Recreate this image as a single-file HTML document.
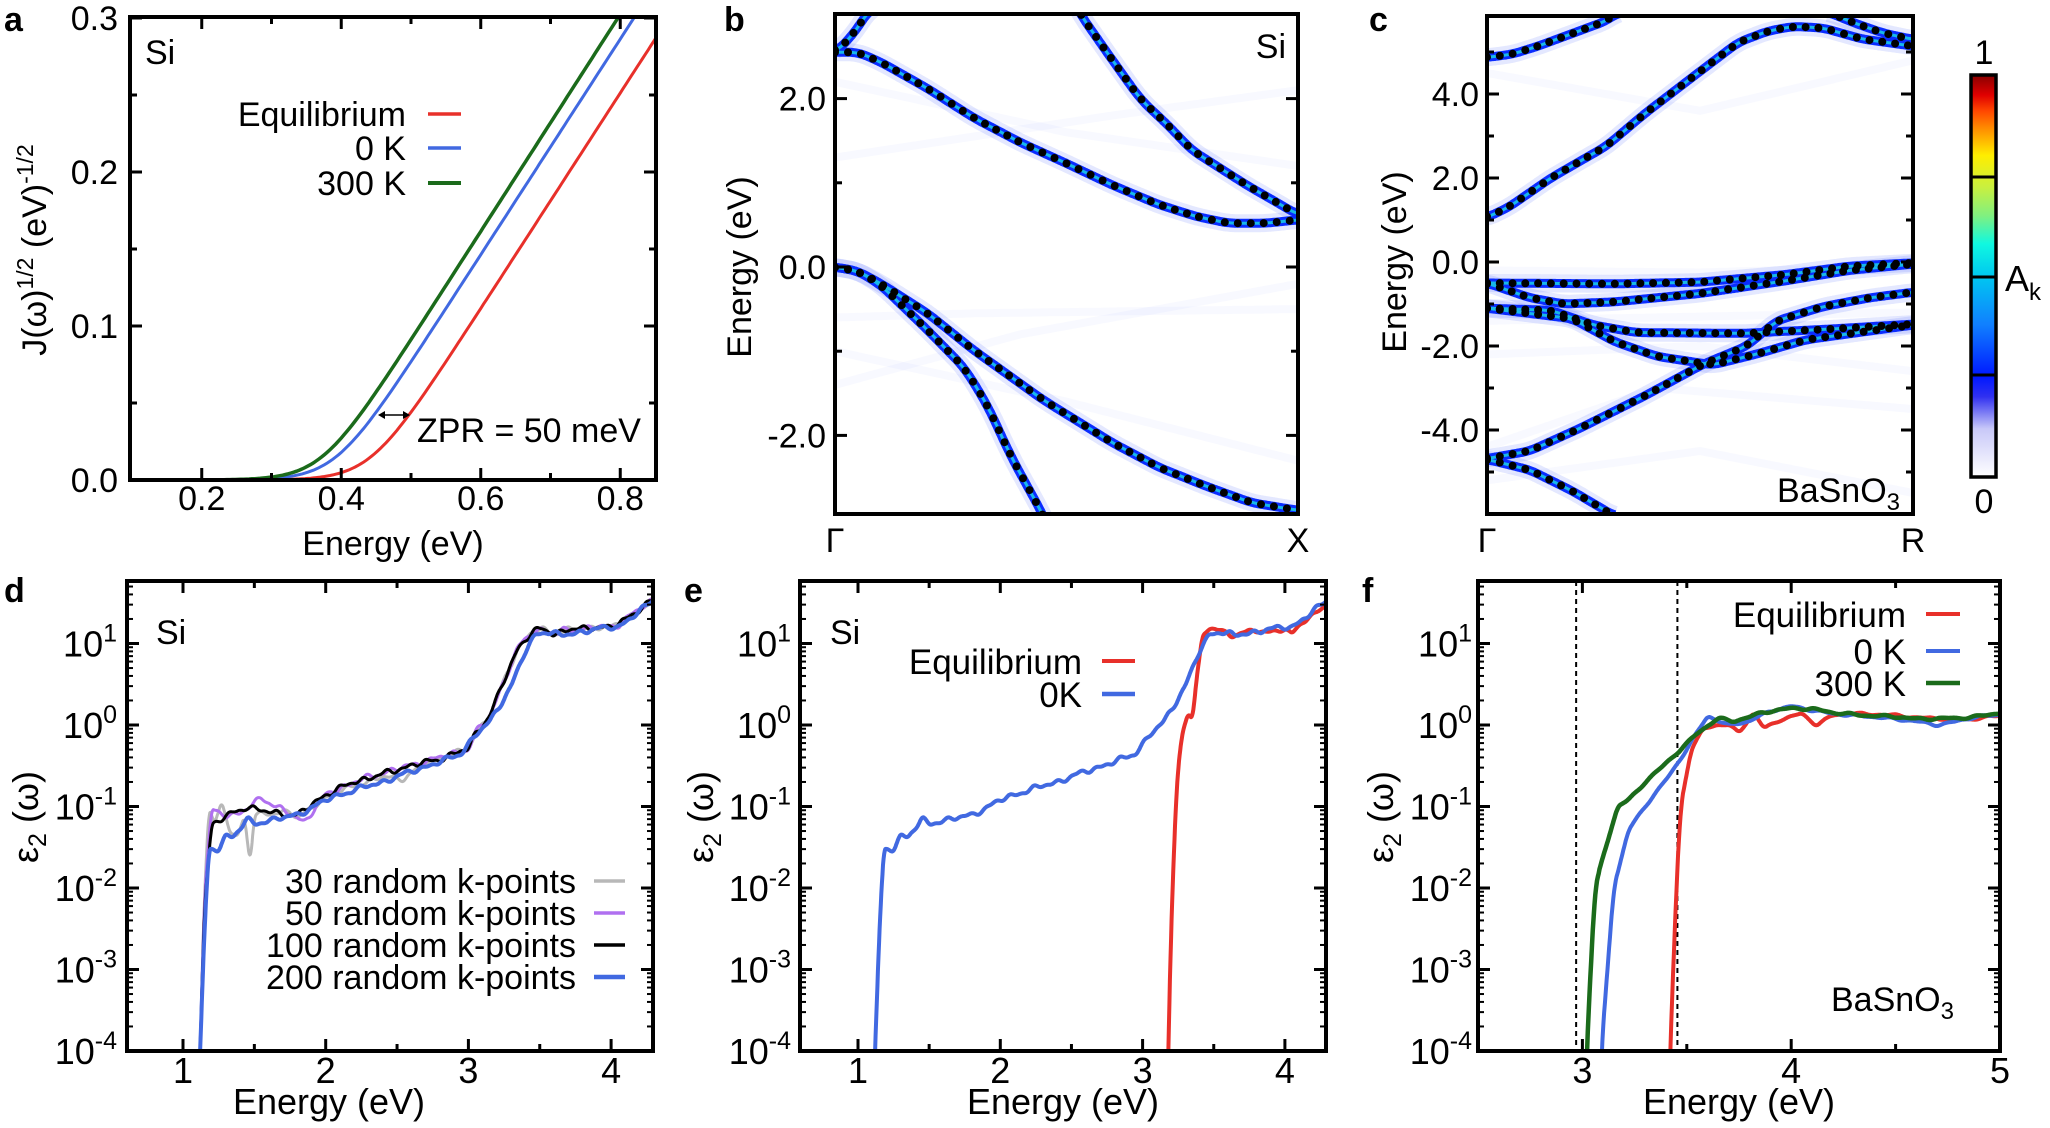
<!DOCTYPE html>
<html><head><meta charset="utf-8">
<style>
html,body{margin:0;padding:0;background:#fff;overflow:hidden;width:2050px;height:1128px;}
svg{display:block;font-family:"Liberation Sans",Arial,sans-serif;}
</style></head>
<body>
<svg id="s" width="2050" height="1128" viewBox="0 0 2050 1128" xmlns="http://www.w3.org/2000/svg"></svg>
<script>
let o='';
function T(x,y,s,size,anchor,extra){o+=`<text x="${x}" y="${y}" font-size="${size}" text-anchor="${anchor||'start'}" ${extra||''}>${s}</text>`;}
function L(x1,y1,x2,y2,c,w,extra){o+=`<line x1="${x1}" y1="${y1}" x2="${x2}" y2="${y2}" stroke="${c}" stroke-width="${w}" ${extra||''}/>`;}
function lerp(p,x){if(x<=p[0][0])return p[0][1];for(let i=1;i<p.length;i++){if(x<=p[i][0]){const a=p[i-1],b=p[i];return a[1]+(b[1]-a[1])*(x-a[0])/(b[0]-a[0]);}}return p[p.length-1][1];}
function smooth(p,x,h){let s=0,n=0;for(let k=-3;k<=3;k++){s+=lerp(p,x+k*h);n++;}return s/n;}
function path(pts){return 'M'+pts.map(q=>q[0].toFixed(1)+','+q[1].toFixed(1)).join('L');}
function clip(id,f){o+=`<clipPath id="${id}"><rect x="${f.l}" y="${f.t}" width="${f.r-f.l}" height="${f.b-f.t}"/></clipPath>`;}
function frame(f){o+=`<rect x="${f.l}" y="${f.t}" width="${f.r-f.l}" height="${f.b-f.t}" fill="none" stroke="#000" stroke-width="4"/>`;}
const FS=34;

// ---------- Panel a ----------
const A={l:130,r:656,t:17,b:480};
clip('ca',A);
const ax=x=>132+(x-0.1)*697.5, ay=v=>480-v*1540;
function jf(x,x0,s){return s*0.03*Math.log(1+Math.exp((x-x0)/0.03));}
[['#e8302a',0.441,0.7,3],['#4169e1',0.391,0.7,3],['#1b6b1b',0.371,0.705,3.5]].forEach(c=>{
 let pts=[];for(let x=0.1;x<=0.86;x+=0.004)pts.push([ax(x),ay(jf(x,c[1],c[2]))]);
 o+=`<path d="${path(pts)}" fill="none" stroke="${c[0]}" stroke-width="${c[3]}" clip-path="url(#ca)"/>`;
});
frame(A);
[0.2,0.4,0.6,0.8].forEach(v=>{const X=ax(v);L(X,A.b,X,A.b-12,'#000',3);L(X,A.t,X,A.t+12,'#000',3);T(X,510,v.toFixed(1),FS,'middle');});
[0.3,0.5,0.7].forEach(v=>{const X=ax(v);L(X,A.b,X,A.b-7,'#000',3);L(X,A.t,X,A.t+7,'#000',3);});
[0,0.1,0.2,0.3].forEach(v=>{const Y=ay(v);L(A.l,Y,A.l+12,Y,'#000',3);L(A.r,Y,A.r-12,Y,'#000',3);T(118,Y+12,v.toFixed(1),FS,'end');});
[0.05,0.15,0.25].forEach(v=>{const Y=ay(v);L(A.l,Y,A.l+7,Y,'#000',3);L(A.r,Y,A.r-7,Y,'#000',3);});
T(393,555,'Energy (eV)',FS,'middle');
o+=`<text transform="translate(46,250) rotate(-90)" font-size="${FS}" text-anchor="middle">J(ω)<tspan dy="-13" font-size="23">1/2</tspan><tspan dy="13"> (eV)</tspan><tspan dy="-13" font-size="23">-1/2</tspan></text>`;
T(145,64,'Si',FS);
T(406,126,'Equilibrium',FS,'end');T(406,160,'0 K',FS,'end');T(406,195,'300 K',FS,'end');
L(428,114,461,114,'#e8302a',3.5);L(428,148,461,148,'#4169e1',3.5);L(428,183,461,183,'#1b6b1b',4);
L(380,415,408,415,'#000',1.5);
o+=`<path d="M378,415 l7,-4 v8z M410,415 l-7,-4 v8z" fill="#000"/>`;
T(417,442,'ZPR = 50 meV',FS);
T(4,31,'a',34,'start','font-weight="bold"');

// ---------- band helpers ----------
function bands(f,id,Emap,list,haze){
 clip(id,f);
 o+=`<g clip-path="url(#${id})">`;
 const W=f.r-f.l;
 haze.forEach(b=>{let pts=[];for(let t=0;t<=1.0001;t+=0.005)pts.push([f.l+t*W,Emap(lerp(b,t))]);
  o+=`<path d="${path(pts)}" fill="none" stroke="#3050ff" stroke-opacity="0.035" stroke-width="8"/>`;});
 const all=[];
 list.forEach(b=>{let pts=[];const t0=b[0][0],t1=b[b.length-1][0];for(let t=t0;t<=t1+1e-6;t+=0.002)pts.push([f.l+t*W,Emap(smooth(b,t,0.006))]);all.push(pts);
  o+=`<path d="${path(pts)}" fill="none" stroke="#2040ff" stroke-opacity="0.12" stroke-width="18"/>`;});
 all.forEach(pts=>{o+=`<path d="${path(pts)}" fill="none" stroke="#0a2cff" stroke-width="9"/>`;});
 all.forEach(pts=>{o+=`<path d="${path(pts)}" fill="none" stroke="#18b8e8" stroke-width="3"/>`;});
 all.forEach(pts=>{let acc=0;o+=`<circle cx="${pts[0][0]}" cy="${pts[0][1]}" r="4" fill="#000"/>`;
  for(let i=1;i<pts.length;i++){acc+=Math.hypot(pts[i][0]-pts[i-1][0],pts[i][1]-pts[i-1][1]);if(acc>=12.5){acc=0;o+=`<circle cx="${pts[i][0].toFixed(1)}" cy="${pts[i][1].toFixed(1)}" r="4" fill="#000"/>`;}}});
 o+='</g>';
 frame(f);
}

// ---------- Panel b ----------
const B={l:835,r:1298,t:14,b:514};
const by=E=>267-84.2*E;
bands(B,'cb',by,[
 [[0,2.55],[0.05,2.55],[0.1,2.43],[0.2,2.12],[0.3,1.77],[0.4,1.48],[0.5,1.23],[0.6,0.97],[0.7,0.74],[0.78,0.6],[0.85,0.52],[0.93,0.52],[1,0.56]],
 [[0,2.55],[0.03,2.7],[0.06,2.93],[0.08,3.1]],
 [[0.5,3.3],[0.53,3.0],[0.6,2.45],[0.66,1.99],[0.72,1.68],[0.77,1.39],[0.83,1.18],[0.89,0.97],[0.95,0.78],[1,0.62]],
 [[0,0],[0.05,-0.05],[0.1,-0.22],[0.2,-0.75],[0.28,-1.2],[0.33,-1.65],[0.38,-2.25],[0.45,-2.95],[0.47,-3.2]],
 [[0,0],[0.05,-0.05],[0.1,-0.2],[0.2,-0.55],[0.3,-0.99],[0.45,-1.58],[0.6,-2.09],[0.7,-2.38],[0.8,-2.6],[0.9,-2.8],[1,-2.89]]
],[
 [[0,-0.6],[0.3,-0.55],[1,-0.5]],[[0,-1.0],[0.5,-1.6],[1,-2.3]],[[0,1.3],[0.6,1.8],[1,2.1]],[[0,2.2],[0.5,1.6],[1,1.2]],[[0,-1.4],[0.4,-0.8],[1,-0.2]]
]);
[-2,0,2].forEach(v=>{const Y=by(v);L(B.l,Y,B.l+12,Y,'#000',3);L(B.r,Y,B.r-12,Y,'#000',3);T(826,Y+12,v.toFixed(1),FS,'end');});
[-1,1].forEach(v=>{const Y=by(v);L(B.l,Y,B.l+7,Y,'#000',3);L(B.r,Y,B.r-7,Y,'#000',3);});
T(835,552,'Γ',FS,'middle');T(1298,552,'X',FS,'middle');
T(1286,58,'Si',FS,'end');
o+=`<text transform="translate(751,267) rotate(-90)" font-size="${FS}" text-anchor="middle">Energy (eV)</text>`;
T(724,31,'b',34,'start','font-weight="bold"');

// ---------- Panel c ----------
const C={l:1487,r:1913,t:16,b:514};
const cy=E=>262-42*E;
bands(C,'cc',cy,[
 [[0,1.06],[0.05,1.3],[0.15,2.0],[0.28,2.76],[0.37,3.53],[0.49,4.46],[0.59,5.23],[0.66,5.5],[0.72,5.61],[0.79,5.57],[0.88,5.31],[1,5.14]],
 [[0,4.87],[0.06,4.95],[0.12,5.14],[0.2,5.44],[0.28,5.74],[0.31,5.95]],
 [[0.8,5.95],[0.86,5.7],[0.93,5.45],[1,5.3]],
 [[0,-0.5],[0.3,-0.52],[0.5,-0.48],[0.7,-0.3],[0.85,-0.1],[1,-0.02]],
 [[0,-0.5],[0.1,-0.85],[0.18,-1.0],[0.3,-0.95],[0.5,-0.75],[0.7,-0.45],[0.85,-0.2],[1,-0.05]],
 [[0,-1.1],[0.15,-1.15],[0.25,-1.5],[0.35,-1.68],[0.6,-1.7],[0.8,-1.6],[1,-1.48]],
 [[0,-1.1],[0.2,-1.35],[0.3,-1.9],[0.4,-2.25],[0.53,-2.45],[0.63,-2.2],[0.75,-1.85],[1,-1.5]],
 [[0,-4.68],[0.1,-4.5],[0.22,-3.95],[0.37,-3.19],[0.51,-2.42],[0.61,-2.0],[0.68,-1.4],[0.79,-1.06],[0.9,-0.85],[1,-0.72]],
 [[0,-4.7],[0.1,-4.95],[0.2,-5.45],[0.3,-6.05]]
],[
 [[0,-0.2],[0.5,-0.25],[1,-0.1]],[[0,-1.4],[0.5,-1.3],[1,-1.2]],[[0,-2.2],[0.5,-2.0],[1,-2.6]],[[0,-4.4],[0.4,-3.0],[1,-3.5]],[[0,4.5],[0.5,3.6],[1,4.8]],[[0,-5.2],[0.5,-4.5],[1,-5.5]]
]);
[-4,-2,0,2,4].forEach(v=>{const Y=cy(v);L(C.l,Y,C.l+12,Y,'#000',3);L(C.r,Y,C.r-12,Y,'#000',3);T(1479,Y+12,v.toFixed(1),FS,'end');});
[-5,-3,-1,1,3,5].forEach(v=>{const Y=cy(v);L(C.l,Y,C.l+7,Y,'#000',3);L(C.r,Y,C.r-7,Y,'#000',3);});
T(1487,552,'Γ',FS,'middle');T(1913,552,'R',FS,'middle');
T(1900,502,'BaSnO<tspan font-size="24" dy="8">3</tspan>',FS,'end');
o+=`<text transform="translate(1406,262) rotate(-90)" font-size="${FS}" text-anchor="middle">Energy (eV)</text>`;
T(1369,31,'c',34,'start','font-weight="bold"');
// colorbar
o+=`<linearGradient id="cbg" x1="0" y1="1" x2="0" y2="0">
<stop offset="0" stop-color="#ffffff"/><stop offset="0.12" stop-color="#c8c8f8"/><stop offset="0.2" stop-color="#3030f0"/><stop offset="0.25" stop-color="#0018ff"/><stop offset="0.38" stop-color="#1080ff"/><stop offset="0.5" stop-color="#00c8f0"/><stop offset="0.58" stop-color="#10f8e0"/><stop offset="0.65" stop-color="#80f080"/><stop offset="0.72" stop-color="#c8f040"/><stop offset="0.8" stop-color="#ffee00"/><stop offset="0.87" stop-color="#ff8800"/><stop offset="0.91" stop-color="#ff4800"/><stop offset="0.95" stop-color="#e00000"/><stop offset="1" stop-color="#880000"/></linearGradient>`;
o+=`<rect x="1971" y="75" width="25" height="402" fill="url(#cbg)" stroke="#000" stroke-width="3.5"/>`;
[177,277,375].forEach(y=>L(1971,y,1996,y,'#000',3));
T(1984,64,'1',FS,'middle');T(1984,513,'0',FS,'middle');
T(2005,291,'A<tspan font-size="24" dy="9">k</tspan>',36);

// ---------- log panels ----------
const LY=v=>1051-81.5*(Math.log10(v)+4);
function noise(x,a,s){return a*(Math.sin(41*x+s)*0.6+Math.sin(73*x+2*s)*0.4+Math.sin(23*x+3*s)*0.3);}
function spec(f,id,X,pts,color,w,na,seed,xmin,xmax){
 let arr=[];for(let x=xmin;x<=xmax;x+=0.004){let lv=smooth(pts.map(p=>[p[0],Math.log10(p[1])]),x,0.004);if(lv>-1.8)lv+=noise(x,na,seed);arr.push([X(x),1051-81.5*(lv+4)]);}
 o+=`<path d="${path(arr)}" fill="none" stroke="${color}" stroke-width="${w}" stroke-linejoin="round" clip-path="url(#${id})"/>`;
}
function logaxes(f,X,xt,xm,labx,labs){
 frame(f);
 xt.forEach(v=>{const x=X(v);L(x,f.b,x,f.b-12,'#000',3);L(x,f.t,x,f.t+12,'#000',3);T(x,1083,labs?labs(v):v,FS+2,'middle');});
 xm.forEach(v=>{const x=X(v);L(x,f.b,x,f.b-7,'#000',3);L(x,f.t,x,f.t+7,'#000',3);});
 for(let n=-4;n<=1;n++){const Y=LY(Math.pow(10,n));if(n>-4){L(f.l,Y,f.l+12,Y,'#000',3);L(f.r,Y,f.r-12,Y,'#000',3);}
  T(labx,Y+13,`10<tspan dy="-15" font-size="25">${n}</tspan>`,FS+2,'end');
  for(let k=2;k<=9;k++){const y=LY(k*Math.pow(10,n));if(y>f.t+2){L(f.l,y,f.l+6,y,'#000',2);L(f.r,y,f.r-6,y,'#000',2);}}}
}
function ylab(x){o+=`<text transform="translate(${x},817) rotate(-90)" font-size="${FS+2}" text-anchor="middle">ε<tspan font-size="25" dy="8">2</tspan><tspan dy="-8"> (ω)</tspan></text>`;}

// ---------- Panel d ----------
const D={l:127,r:653,t:581,b:1051};clip('cd',D);
const dx=E=>183+(E-1)*142.7;
const hi=[[3.0,0.5],[3.05,0.8],[3.15,1.3],[3.25,3.5],[3.35,9],[3.45,14],[3.52,15],[3.6,13],[3.7,15],[3.8,15],[3.9,16],[4.0,16],[4.05,17],[4.15,23],[4.3,35]];
const blueSi=[[1.1,1e-5],[1.12,1e-4],[1.15,3e-3],[1.18,0.028],[1.25,0.03],[1.3,0.045],[1.35,0.042],[1.45,0.07],[1.5,0.06],[1.6,0.068],[1.8,0.078],[2.0,0.12],[2.2,0.16],[2.4,0.2],[2.6,0.27],[2.8,0.35],[2.95,0.45],[3.05,0.75],[3.15,1.1],[3.3,3],[3.4,8],[3.47,13],[3.55,14],[3.65,12.5],[3.8,14],[3.9,15],[4.0,16],[4.05,16],[4.15,21],[4.3,35]];
spec(D,'cd',dx,[[1.1,1e-5],[1.12,1e-4],[1.15,8e-3],[1.18,0.1],[1.22,0.06],[1.27,0.11],[1.33,0.05],[1.38,0.04],[1.43,0.08],[1.47,0.02],[1.5,0.08],[1.6,0.08],[1.75,0.09],[1.8,0.07],[2.0,0.13],[2.2,0.18],[2.4,0.23],[2.55,0.22],[2.7,0.35],[2.9,0.45]].concat(hi),'#b8b8b8',3,0.03,1,0.9,4.3);
spec(D,'cd',dx,[[1.1,1e-5],[1.12,1e-4],[1.15,8e-3],[1.2,0.09],[1.3,0.08],[1.4,0.08],[1.55,0.13],[1.65,0.1],[1.85,0.065],[2.0,0.14],[2.2,0.2],[2.4,0.26],[2.6,0.32],[2.75,0.38],[2.9,0.45]].concat(hi),'#b070f0',3,0.035,2,0.9,4.3);
spec(D,'cd',dx,[[1.1,1e-5],[1.12,1e-4],[1.15,6e-3],[1.2,0.06],[1.3,0.075],[1.45,0.1],[1.6,0.085],[1.8,0.078],[2.0,0.14],[2.2,0.2],[2.4,0.25],[2.6,0.32],[2.8,0.38],[2.95,0.48]].concat(hi),'#000',3,0.035,3,0.9,4.3);
spec(D,'cd',dx,blueSi,'#4169e1',4,0.03,4,0.9,4.3);
logaxes(D,dx,[1,2,3,4],[1.5,2.5,3.5],117);
T(156,644,'Si',FS);
const dl=['30 random k-points','50 random k-points','100 random k-points','200 random k-points'],dc=['#b8b8b8','#b070f0','#000','#4169e1'];
dl.forEach((s,i)=>{const y=881+i*32;T(576,y+12,s,FS,'end');L(594,y,625,y,dc[i],i==3?4.5:3.5);});
T(329,1114,'Energy (eV)',FS+2,'middle');
ylab(38);
T(4,602,'d',34,'start','font-weight="bold"');

// ---------- Panel e ----------
const E={l:800,r:1326,t:581,b:1051};clip('ce',E);
const ex=v=>858+(v-1)*142.3;
spec(E,'ce',ex,[[3.16,1e-6],[3.18,1e-4],[3.2,3e-3],[3.23,0.08],[3.25,0.3],[3.28,0.8],[3.32,1.35],[3.35,1.2],[3.38,4],[3.42,12],[3.47,15],[3.55,15],[3.62,12],[3.7,14],[3.8,14],[3.9,14],[4.0,15],[4.05,13],[4.12,18],[4.2,23],[4.3,30]],'#e8302a',4,0.02,5,3.1,4.3);
spec(E,'ce',ex,blueSi,'#4169e1',4,0.03,4,0.9,4.3);
logaxes(E,ex,[1,2,3,4],[1.5,2.5,3.5],791);
T(830,644,'Si',FS);
T(1082,674,'Equilibrium',FS+1,'end');T(1082,707,'0K',FS+1,'end');
L(1102,661,1135,661,'#e8302a',4);L(1102,694,1135,694,'#4169e1',4.5);
T(1063,1114,'Energy (eV)',FS+2,'middle');
ylab(713);
T(684,602,'e',34,'start','font-weight="bold"');

// ---------- Panel f ----------
const Fp={l:1478,r:2000,t:581,b:1051};clip('cf',Fp);
const fx=v=>1478+(v-2.5)*208.8;
L(fx(2.97),Fp.t,fx(2.97),Fp.b,'#000',2,'stroke-dasharray="5,4"');
L(fx(3.455),Fp.t,fx(3.455),Fp.b,'#000',2,'stroke-dasharray="5,4"');
spec(Fp,'cf',fx,[[3.4,1e-6],[3.42,1e-4],[3.45,1e-2],[3.47,0.1],[3.52,0.5],[3.58,0.9],[3.65,1.0],[3.7,1.0],[3.75,0.8],[3.82,1.45],[3.87,0.9],[3.95,1.15],[4.05,1.4],[4.12,1.0],[4.2,1.3],[4.3,1.4],[4.5,1.3],[4.7,1.2],[4.8,1.15],[5,1.3]],'#e8302a',4,0.015,6,3.35,5.0);
spec(Fp,'cf',fx,[[3.07,1e-6],[3.09,1e-4],[3.15,1e-2],[3.22,0.05],[3.3,0.1],[3.42,0.25],[3.5,0.5],[3.6,1.3],[3.7,1.0],[3.8,1.1],[3.9,1.5],[4.0,1.7],[4.1,1.5],[4.3,1.3],[4.5,1.2],[4.7,1.0],[4.85,1.2],[5,1.35]],'#4169e1',4,0.015,7,3.0,5.0);
spec(Fp,'cf',fx,[[3.0,1e-6],[3.02,1e-4],[3.06,1e-2],[3.1,0.025],[3.17,0.1],[3.22,0.12],[3.3,0.2],[3.38,0.3],[3.47,0.5],[3.55,0.8],[3.65,1.2],[3.72,1.1],[3.85,1.4],[4.0,1.6],[4.1,1.6],[4.2,1.4],[4.4,1.3],[4.6,1.2],[4.8,1.2],[5,1.4]],'#1b6b1b',4.5,0.015,8,2.95,5.0);
logaxes(Fp,fx,[3,4,5],[2.5,3.5,4.5],1472);
T(1906,627,'Equilibrium',FS+1,'end');T(1906,664,'0 K',FS+1,'end');T(1906,696,'300 K',FS+1,'end');
L(1926,614,1960,614,'#e8302a',4);L(1926,651,1960,651,'#4169e1',4);L(1926,683,1960,683,'#1b6b1b',4.5);
T(1831,1011,'BaSnO<tspan font-size="24" dy="8">3</tspan>',FS);
T(1739,1114,'Energy (eV)',FS+2,'middle');
ylab(1393);
T(1362,602,'f',34,'start','font-weight="bold"');

document.getElementById('s').innerHTML=o;
</script>
</body></html>
